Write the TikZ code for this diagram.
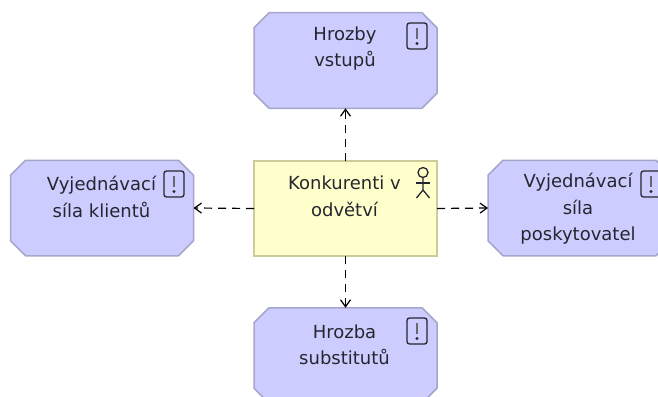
\documentclass[tikz,border=0pt]{standalone}
\usepackage{fontspec}
\setmainfont{DejaVu Sans}
\usetikzlibrary{arrows.meta,calc}
\definecolor{stratfill}{HTML}{CCCCFF}
\definecolor{stratline}{HTML}{A6A6CC}
\definecolor{actfill}{HTML}{FFFFCC}
\definecolor{actline}{HTML}{CCCC99}
\definecolor{ink}{HTML}{262630}
\tikzset{
  x=1pt,y=-1pt,
  stratbox/.style={rectangle,minimum width=183pt,minimum height=95.5pt,inner sep=0pt,outer sep=0pt},
  chamfer/.style={draw=stratline,fill=stratfill,line width=1.5pt,line join=round},
  actbox/.style={rectangle,draw=actline,fill=actfill,line width=1.5pt,minimum width=183pt,minimum height=95pt,inner sep=0pt,outer sep=0pt},
  label/.style={text=ink,font=\fontsize{18}{26.5}\selectfont,align=center,inner sep=0pt,anchor=center},
  dep/.style={draw=black,line width=1.2pt,dash pattern=on 8pt off 6pt,-{Straight Barb[length=7pt,width=10pt,line width=1.2pt]}},
  glyph/.style={draw=ink,line width=1.3pt},
}
\newcommand{\warnicon}[1]{%
  \draw[glyph,rounded corners=2.5pt] ($(#1)+(-10,-13)$) rectangle ($(#1)+(10,13)$);
  \draw[draw=ink!70,line width=2.6pt] ($(#1)+(0,-8)$) -- ($(#1)+(0,3)$);
  \fill[ink] ($(#1)+(0,7.5)$) circle (1.6);
}
\newcommand{\octagon}[1]{%
  \draw[chamfer] ($(#1.north west)+(15,0)$) -- ($(#1.north east)+(-15,0)$) -- ($(#1.north east)+(0,15)$)
    -- ($(#1.south east)+(0,-15)$) -- ($(#1.south east)+(-15,0)$) -- ($(#1.south west)+(15,0)$)
    -- ($(#1.south west)+(0,-15)$) -- ($(#1.north west)+(0,15)$) -- cycle;
}
\begin{document}
\begin{tikzpicture}
\useasboundingbox (0,0) rectangle (658,396);
\clip (0,0) rectangle (658,396);
\node[stratbox] (top) at (345.5,60.5) {};
\node[stratbox] (bottom) at (345.5,355.5) {};
\node[stratbox] (left) at (102,208) {};
\node[stratbox] (right) at (579.5,208) {};
\octagon{top}\octagon{bottom}\octagon{left}\octagon{right}
\node[actbox] (center) at (345.5,208.5) {};
\draw[dep] (center.north) -- (top.south);
\draw[dep] (center.south) -- (bottom.north);
\draw[dep] (center.west) -- (left.east);
\draw[dep] (center.east) -- (right.west);
\node[label] (t1) at (345,48.5) {Hrozby\\vstupů};
\node[label] (t2) at (344.5,196.5) {Konkurenti v\\odvětví};
\node[label] (t3) at (344.5,345) {Hrozba\\substitutů};
\node[label] (t4) at (101.5,197) {Vyjednávací\\síla klientů};
\node[label] (t5) at (578,209) {Vyjednávací\\síla\\poskytovatel};
\coordinate (w1) at (417,36);
\coordinate (w2) at (417,331);
\coordinate (w3) at (174,184);
\coordinate (w4) at (651,184);
\warnicon{w1}\warnicon{w2}\warnicon{w3}\warnicon{w4}
\coordinate (a) at (423,172.5);
\draw[glyph] (a) circle (5);
\draw[glyph] ($(a)+(0,5)$) -- ($(a)+(0,17.5)$) -- ($(a)+(-6.5,25.5)$);
\draw[glyph] ($(a)+(0,17.5)$) -- ($(a)+(6.5,25.5)$);
\draw[glyph] ($(a)+(-7,10.5)$) -- ($(a)+(7,10.5)$);
\end{tikzpicture}
\end{document}
